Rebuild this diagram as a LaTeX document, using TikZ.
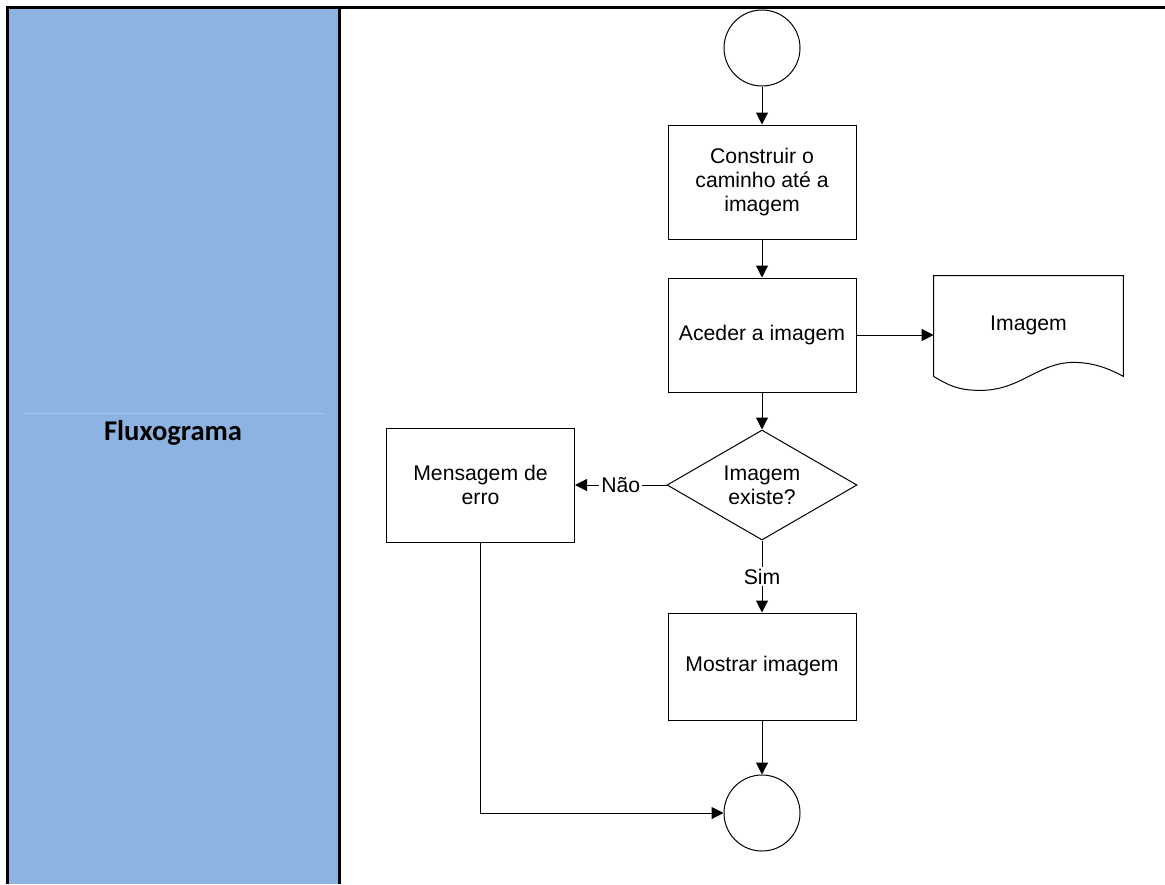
\documentclass[tikz,border=0pt]{standalone}
\usepackage{fontspec}
\setmainfont{Liberation Sans}
\newfontfamily\lanefont{Carlito}
\usetikzlibrary{shapes.geometric,arrows.meta}
\definecolor{laneblue}{HTML}{8DB3E2}
\definecolor{lanerule}{HTML}{A3C2E9}
\begin{document}
\begin{tikzpicture}[x=0.5pt,y=-0.5pt,
	font=\fontsize{10.6}{12}\selectfont,
	block/.style={
		shape=rectangle,
		minimum width=94pt,
		minimum height=57pt,
		draw, line width=0.5pt,
		align=center},
	terminal/.style={
		shape=circle,
		minimum size=38pt,
		draw, line width=0.5pt},
	decision/.style={
		shape=diamond,
		aspect=1.7, inner sep=0pt,
		minimum width=95pt,
		minimum height=55pt,
		draw, line width=0.5pt,
		align=center},
	flow/.style={-{Triangle[length=6pt,width=6pt]}, line width=0.5pt}]
	\useasboundingbox (0,0) rectangle (1165,884);
	% lane
	\fill [laneblue] (7.5,7.5) rectangle (339.5,884);
	\draw [lanerule, line width=0.5pt] (22,413) -- (325,413);
	\draw [line width=1.5pt] (1165,7.5) -- (7.5,7.5) -- (7.5,884);
	\draw [line width=1.5pt] (339.5,7.5) -- (339.5,884);
	\node [font=\fontsize{14.3}{17}\selectfont\lanefont\bfseries] (lane) at (173,433) {Fluxograma};
	% flowchart
	\node [terminal] (start) at (762,48) {};
	\node [block] (path) at (762,182) {Construir o\\caminho até a\\imagem};
	\node [block] (access) at (762,335) {Aceder a imagem};
	\node [minimum width=94.5pt, minimum height=50pt] (doc) at (1028.5,326) {\raisebox{3pt}{Imagem}};
	\node [decision] (exists) at (762,485) {Imagem\\existe?};
	\node [block] (error) at (480.5,485) {Mensagem de\\erro};
	\node [block, minimum height=53.5pt] (show) at (762,666.5) {Mostrar imagem};
	\node [terminal] (end) at (762,813) {};
	\draw [line width=0.5pt] (doc.south west) -- (doc.north west) -- (doc.north east) -- (doc.south east)
		.. controls +(-15,-8) and +(20,0) .. ++(-50,-14)
		.. controls +(-35,0) and +(40,0) .. ++(-93,28)
		.. controls +(-22,0) and +(15,9) .. (doc.south west);
	\draw [flow] (start) edge (path);
	\draw [flow] (path) edge (access);
	\draw [flow] (access.east) -- (access.east -| doc.west);
	\draw [flow] (access) edge (exists);
	\draw [flow] (exists.west) -- node[fill=white, inner sep=1pt] {Não} (error.east);
	\draw [flow] (exists.south) -- node[fill=white, inner sep=1pt] {Sim} (show.north);
	\draw [flow] (show) edge (end);
	\draw [flow] (error.south) |- (end.west);
\end{tikzpicture}
\end{document}
